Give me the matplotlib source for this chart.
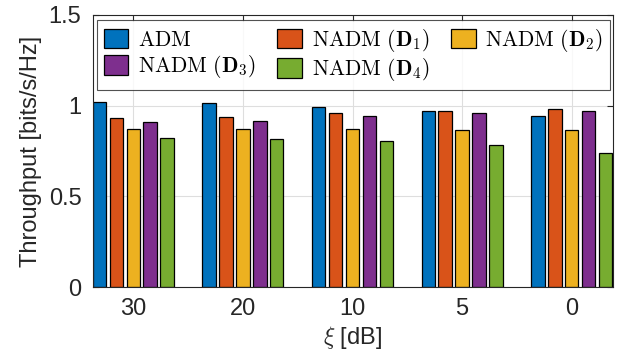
import numpy as np
import matplotlib
matplotlib.use("Agg")
import matplotlib.pyplot as plt

# throughput per scheme
xi_labels = ["30", "20", "10", "5", "0"]
series_names = [r"$\mathrm{ADM}$",
                r"$\mathrm{NADM}\ (\mathbf{D}_1)$",
                r"$\mathrm{NADM}\ (\mathbf{D}_2)$",
                r"$\mathrm{NADM}\ (\mathbf{D}_3)$",
                r"$\mathrm{NADM}\ (\mathbf{D}_4)$"]
adm = [1.018, 1.013, 0.995, 0.973, 0.941]
nadm_d1 = [0.932, 0.938, 0.960, 0.973, 0.982]
nadm_d2 = [0.872, 0.872, 0.870, 0.868, 0.868]
nadm_d3 = [0.908, 0.914, 0.943, 0.962, 0.973]
nadm_d4 = [0.820, 0.818, 0.804, 0.784, 0.741]

colors = ["#0072BD", "#D95319", "#EDB120", "#7E2F8E", "#77AC30"]

plt.rcParams['font.family'] = ['Liberation Sans', 'DejaVu Sans']
plt.rcParams['mathtext.fontset'] = 'cm'

fig = plt.figure(figsize=(6.25, 3.64), dpi=100)
ax = fig.add_axes([0.148, 0.2115, 0.832, 0.7473])

x = np.arange(1, len(xi_labels) + 1)
step = 0.154
width = 0.123
all_series = [adm, nadm_d1, nadm_d2, nadm_d3, nadm_d4]
bars = []
for i, vals in enumerate(all_series):
    b = ax.bar(x + (i - 2) * step, vals, width, color=colors[i],
               edgecolor="black", linewidth=0.9, label=series_names[i])
    bars.append(b)

ax.set_xlim(1 - 0.372, 5 + 0.372)
ax.set_ylim(0, 1.5)
ax.set_xticks(x)
ax.set_xticklabels(xi_labels)
ax.set_yticks([0, 0.5, 1, 1.5])
ax.set_yticklabels(["0", "0.5", "1", "1.5"])
ax.set_axisbelow(True)
ax.grid(True, color="#dedede", linewidth=0.8)
ax.tick_params(direction="in", length=4, width=0.8, top=True, right=True,
               labelsize=17, colors="#262626", pad=8)
for s in ax.spines.values():
    s.set_color("#262626")
    s.set_linewidth(0.8)

ax.set_ylabel("Throughput [bits/s/Hz]", fontsize=17, color="#262626", labelpad=5)
ax.set_xlabel(r"$\xi$ [dB]", fontsize=17, color="#262626", labelpad=3)

# matplotlib fills legend column by column, so reorder to get row order
order = [0, 3, 1, 4, 2]
leg = ax.legend([bars[k] for k in order], [series_names[k] for k in order],
                ncol=3, loc="upper left", bbox_to_anchor=(0.009, 0.98),
                fontsize=15.5, frameon=True, fancybox=False,
                edgecolor="#262626", handlelength=1.15, handleheight=1.0,
                handletextpad=0.45, borderpad=0.3, labelspacing=0.12,
                columnspacing=1.0, borderaxespad=0)
leg.get_frame().set_linewidth(0.8)

fig.savefig("out.png", dpi=100)
